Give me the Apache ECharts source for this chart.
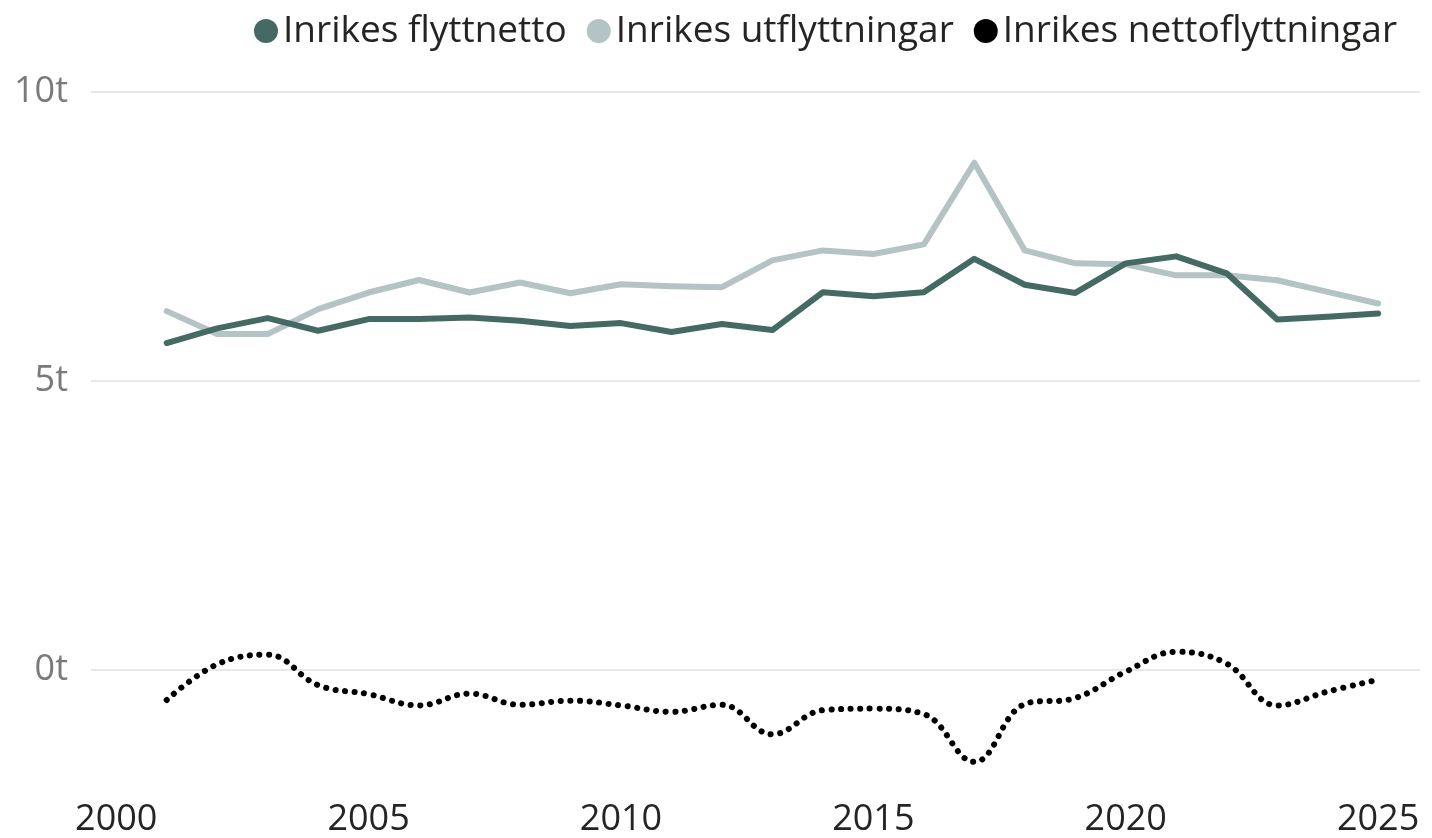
<!DOCTYPE html>
<html>
<head>
<meta charset="utf-8">
<script src="https://cdn.jsdelivr.net/npm/echarts@6/dist/echarts.min.js"></script>
<style>
html,body{margin:0;padding:0;background:#fff;}
#chart{width:1432px;height:838px;}
</style>
</head>
<body>
<div id="chart"></div>
<script>
const years = [2001,2002,2003,2004,2005,2006,2007,2008,2009,2010,2011,2012,2013,2014,2015,2016,2017,2018,2019,2020,2021,2022,2023,2024,2025];
const flyttnetto = [5650,5903,6081,5862,6064,6064,6093,6034,5943,5995,5840,5978,5874,6529,6460,6530,7107,6659,6517,7029,7150,6857,6057,6103,6162];
const utflyttningar = [6202,5805,5805,6236,6524,6741,6524,6697,6512,6667,6633,6616,7081,7253,7190,7357,8771,7253,7029,7012,6822,6822,6736,6535,6334];
const nettoflyttningar = [-528,90,256,-272,-428,-623,-417,-612,-540,-623,-734,-612,-1123,-706,-678,-773,-1600,-600,-495,-39,306,100,-623,-384,-178];
const xTicks = [2000,2005,2010,2015,2020,2025];
const yTicks = [0,5000,10000];
const seriesNames = ['Inrikes flyttnetto','Inrikes utflyttningar','Inrikes nettoflyttningar'];

function pairs(vals){ return years.map((y,i)=>[y, vals[i]]); }

const chart = echarts.init(document.getElementById('chart'), null, {renderer:'canvas'});
chart.setOption({
  animation:false,
  backgroundColor:'#ffffff',
  textStyle:{fontFamily:'Open Sans'},
  legend:{
    top:6, right:30,
    icon:'circle',
    itemWidth:24, itemHeight:24, itemGap:20,
    textStyle:{fontSize:37, color:'#252423', fontFamily:'Open Sans', lineHeight:40},
    data:seriesNames
  },
  grid:{left:91, right:12, top:91.7, bottom:838-787.7, containLabel:false},
  xAxis:{
    type:'value', min:1999.5, max:2025.83,
    axisLine:{show:false}, axisTick:{show:false}, splitLine:{show:false},
    axisLabel:{customValues:xTicks, fontSize:36, color:'#252423', fontFamily:'Open Sans', margin:17, formatter:v=>String(v)}
  },
  yAxis:{
    type:'value', min:-2000, max:10000,
    axisLine:{show:false},
    axisTick:{show:false, customValues:yTicks},
    splitLine:{show:true, lineStyle:{color:'#e8e8e8', width:2}},
    axisLabel:{customValues:yTicks, fontSize:36, color:'#7a7a7a', fontFamily:'Open Sans', margin:23, formatter:v=>(v/1000)+'t'}
  },
  series:[
    {name:seriesNames[0], type:'line', data:pairs(flyttnetto), showSymbol:false, symbol:'none',
     itemStyle:{color:'#456a63'}, lineStyle:{color:'#456a63', width:6, join:'round', cap:'round'}, z:3},
    {name:seriesNames[1], type:'line', data:pairs(utflyttningar), showSymbol:false, symbol:'none',
     itemStyle:{color:'#b4c3c3'}, lineStyle:{color:'#b4c3c3', width:6, join:'round', cap:'round'}, z:2},
    {name:seriesNames[2], type:'line', data:pairs(nettoflyttningar), showSymbol:false, symbol:'none', smooth:0.4,
     itemStyle:{color:'#000000'}, lineStyle:{color:'#000000', width:6, type:[0.1,9.5], cap:'round'}, z:4}
  ]
});
</script>
</body>
</html>
